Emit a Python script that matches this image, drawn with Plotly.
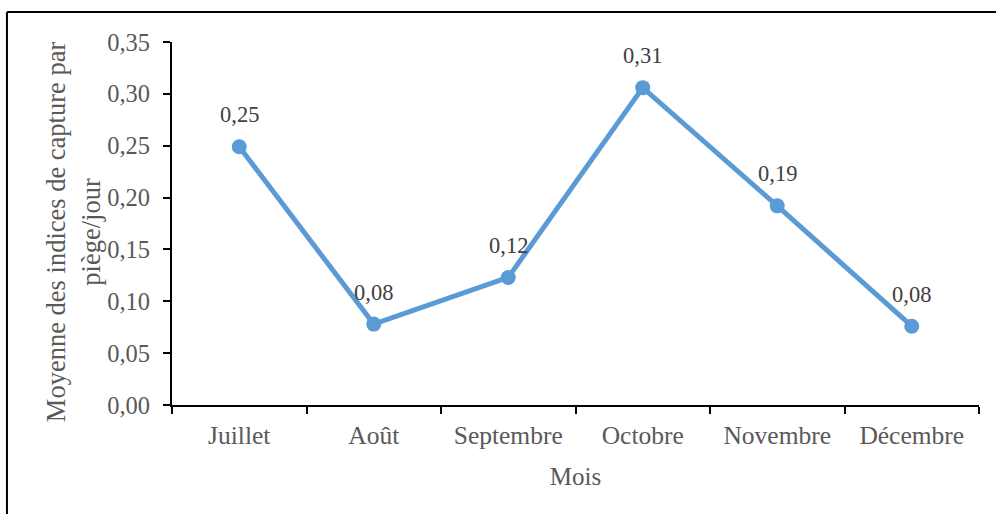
import plotly.graph_objects as go

months = ["Juillet", "Août", "Septembre", "Octobre", "Novembre", "Décembre"]
indices = [0.249, 0.078, 0.123, 0.306, 0.192, 0.076]
y_ticks = [0.0, 0.05, 0.10, 0.15, 0.20, 0.25, 0.30, 0.35]

FONT = "Liberation Serif"
GREY = "#595959"
BLUE = "#5B9BD5"


def fmt(v):
    return f"{v:.2f}".replace(".", ",")


def main():
    fig = go.Figure()
    fig.add_trace(
        go.Scatter(
            x=months,
            y=indices,
            mode="lines+markers",
            line=dict(color=BLUE, width=5),
            marker=dict(color=BLUE, size=15),
            showlegend=False,
            hoverinfo="skip",
        )
    )

    # data labels above the points
    for m, v in zip(months, indices):
        fig.add_annotation(
            x=m, y=v, text=fmt(v), showarrow=False, yshift=32,
            font=dict(family=FONT, size=22.5, color="#404040"),
        )

    n = len(months)
    bounds = [i - 0.5 for i in range(n + 1)]

    fig.update_layout(
        width=996,
        height=514,
        margin=dict(l=172, r=17, t=42, b=109),
        paper_bgcolor="white",
        plot_bgcolor="white",
        font=dict(family=FONT, size=22, color=GREY),
        xaxis=dict(
            type="category",
            range=[-0.5, n - 0.5],
            showline=True, linecolor="black", linewidth=2,
            ticks="outside", tickson="boundaries", ticklen=7,
            tickcolor="black", tickwidth=2,
            tickfont=dict(size=25.5), ticklabelstandoff=6,
            showgrid=False, zeroline=False,
            title=dict(text="Mois", standoff=19, font=dict(size=25)),
        ),
        xaxis2=dict(
            overlaying="x", anchor="y", range=[-0.5, n - 0.5],
            tickvals=bounds, ticks="inside", ticklen=7,
            tickcolor="black", tickwidth=2,
            showticklabels=False, showgrid=False, zeroline=False, showline=False,
        ),
        yaxis=dict(
            range=[0, 0.35],
            tickvals=y_ticks,
            tickformat=".2f",
            showline=True, linecolor="black", linewidth=2,
            ticks="outside", ticklen=7, tickcolor="black", tickwidth=2,
            tickfont=dict(size=24.5), ticklabelstandoff=8,
            showgrid=False, zeroline=False,
        ),
        yaxis2=dict(
            overlaying="y", anchor="x", range=[0, 0.35],
            tickvals=y_ticks, ticks="inside", ticklen=7,
            tickcolor="black", tickwidth=2,
            showticklabels=False, showgrid=False, zeroline=False, showline=False,
        ),
        separators=", ",
    )

    # y axis title, two lines, slightly below the plot centre
    fig.add_annotation(
        text="Moyenne des indices de capture par<br>piège/jour",
        xref="paper", yref="paper", x=-0.1225, y=0.4766,
        xanchor="center", yanchor="middle", textangle=-90,
        showarrow=False, font=dict(family=FONT, size=26.5, color=GREY),
    )

    # outer frame of the chart
    fig.add_shape(type="line", xref="paper", yref="paper",
                  x0=-0.2045, x1=1.05, y0=1.0826, y1=1.0826,
                  line=dict(color="black", width=2))
    fig.add_shape(type="line", xref="paper", yref="paper",
                  x0=-0.2045, x1=-0.2045, y0=1.0826, y1=-0.35,
                  line=dict(color="black", width=2))

    fig.write_html(
        "out.html",
        config={"displayModeBar": False},
        post_script="document.body.style.margin='0';",
    )


if __name__ == "__main__":
    main()
